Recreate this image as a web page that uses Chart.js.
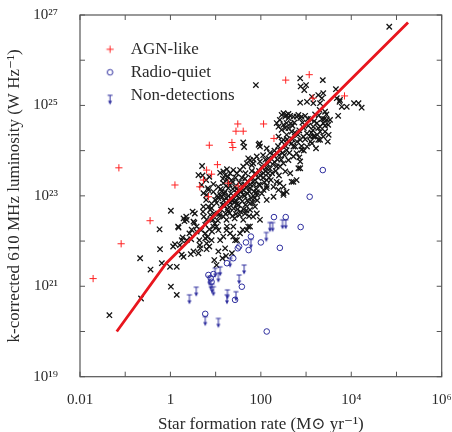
<!DOCTYPE html>
<html><head><meta charset="utf-8">
<script src="https://cdn.jsdelivr.net/npm/chart.js@4.4.1/dist/chart.umd.min.js"></script>
<style>html,body{margin:0;padding:0;background:#fff}</style>
</head><body>
<canvas id="c" width="452" height="432" style="display:block;width:452px;height:432px"></canvas>
<script>
// ---- data: [log10 SFR, log10 L610] ----
const starFormingLog = [
[-1.35,20.36],[-0.65,20.73],[-0.67,21.62],[-0.44,21.37],[-0.23,21.82],[-0.24,22.26],[-0.19,21.51],
[0.01,20.99],[0.14,20.81],[-0.01,21.43],[0.14,21.43],[0.06,21.88],[0.10,21.93],[0.01,22.67],[0.18,22.30],
[0.17,22.32],[0.29,22.50],[0.36,22.47],[0.49,22.65],[0.54,22.61],[0.51,22.43],[0.58,22.32],[0.47,22.25],[0.36,22.02],[0.25,22.02],
[0.21,21.91],[0.29,21.65],[0.51,21.77],[0.65,21.91],[0.77,22.06],[0.80,21.95],[0.91,22.02],[0.25,21.70],[0.27,22.08],[0.31,22.44],
[0.35,22.54],[0.42,22.17],[0.45,21.71],[0.53,22.40],[0.58,22.21],[0.46,22.04],[0.62,21.73],[0.66,21.84],[0.64,22.02],[0.69,23.24],
[0.70,23.66],[0.71,23.45],[0.73,23.06],[0.77,22.17],[0.79,22.91],[0.74,22.54],[0.68,22.24],[0.73,22.76],[0.77,22.36],[0.80,21.82],
[0.82,22.09],[0.86,21.88],[0.86,22.26],[0.92,22.21],[0.95,22.32],[0.96,22.61],[0.99,22.91],[0.84,23.13],[0.91,22.83],[0.88,22.58],
[0.80,22.47],[0.95,23.09],[0.86,23.42],[0.95,23.26],[0.84,22.76],[0.94,22.47],[0.98,22.39],[0.62,23.46],[0.83,23.17],[0.72,22.65],
[0.91,22.73],[0.88,22.69],[0.80,23.02],[0.79,23.35],
[0.97,21.58],[1.15,21.62],[1.23,21.67],[1.21,21.84],[1.36,21.73],[1.43,22.02],[1.06,21.77],[1.02,21.47],
[1.02,22.84],[1.06,22.95],[1.10,23.02],[1.21,23.09],[1.28,23.17],[1.06,23.20],[1.17,23.28],[1.25,23.35],[1.10,23.51],[1.17,23.54],
[1.25,23.59],[1.21,23.46],[1.32,23.50],[1.39,23.57],[1.47,23.50],[1.54,23.57],[1.61,23.65],[1.69,23.72],[1.76,23.79],[1.83,23.72],
[1.91,23.87],[1.98,24.09],[1.61,24.18],[1.63,24.08],[1.95,24.13],[1.97,24.16],[2.13,24.05],[2.28,23.90],[2.17,23.83],[1.98,23.76],
[1.84,23.80],[1.72,23.83],[1.80,23.68],[1.98,23.24],[2.13,23.17],[2.28,23.20],[2.35,23.31],[2.50,23.02],[2.57,23.09],[2.42,23.28],
[2.13,23.35],[1.83,23.31],[1.76,23.17],[1.61,23.02],[1.91,23.02],
[1.39,22.32],[1.54,22.17],[1.69,22.24],[1.72,22.32],[1.61,22.47],[1.83,22.54],[1.91,22.61],[1.98,22.47],[2.13,22.91],[2.06,23.13],
[1.91,23.08],[1.76,22.83],[1.65,22.61],[1.76,22.69],[1.87,22.76],[1.32,22.17],[1.24,22.24],[1.17,22.10],[1.10,22.02],[1.06,22.24],
[1.24,22.47],[1.02,22.32],[1.17,22.54],[1.25,22.32],[1.39,22.10],[1.47,22.02],[1.60,22.25],[1.76,22.32],
[1.05,22.45],[1.08,22.60],[1.12,22.70],[1.15,22.80],[1.18,22.90],[1.13,23.10],[1.09,22.55],[1.19,23.05],[1.14,22.98],
[1.22,22.60],[1.26,22.70],[1.30,22.75],[1.33,22.85],[1.36,22.90],[1.28,23.00],[1.34,23.05],[1.38,23.15],[1.31,23.25],[1.35,23.35],
[1.27,22.65],[1.24,22.95],[1.37,22.55],[1.29,22.88],
[1.42,22.50],[1.45,22.60],[1.48,22.70],[1.51,22.80],[1.44,22.90],[1.53,22.95],[1.47,23.00],[1.56,23.10],[1.43,23.20],[1.52,23.30],
[1.58,23.40],[1.41,22.85],[1.55,22.65],[1.49,23.05],[1.46,23.15],
[1.62,22.70],[1.66,22.80],[1.70,22.90],[1.64,23.00],[1.74,23.10],[1.68,23.20],[1.72,23.30],[1.78,23.40],[1.66,23.50],[1.79,22.95],[1.63,23.25],
[1.82,22.85],[1.86,22.95],[1.90,23.15],[1.84,23.25],[1.94,23.40],[1.88,23.50],[1.96,23.55],[1.85,23.10],
[1.03,23.00],[1.11,23.15],[1.16,23.38],[1.20,22.78],[1.23,23.22],[1.27,23.42],[1.31,22.62],[1.34,22.95],[1.38,23.30],[1.40,22.72],
[1.44,23.40],[1.47,22.82],[1.50,23.12],[1.53,22.58],[1.57,23.25],[1.59,22.88],[1.62,23.12],[1.65,23.38],[1.68,22.68],[1.71,23.05],
[1.74,22.55],[1.77,23.25],[1.80,23.55],[1.83,23.00],[1.87,23.35],[1.92,22.90],[1.95,23.25],[1.99,23.45],[2.02,23.05],[2.08,23.30],
[2.05,23.40],[2.10,23.55],[2.15,23.70],[2.20,23.60],[2.25,23.50],[2.30,23.75],[2.35,23.65],[2.40,23.90],[2.45,23.80],[2.20,23.95],
[2.30,24.00],[2.10,23.80],[2.40,23.45],[2.05,23.90],[2.18,23.40],[2.38,24.10],[2.48,23.95],
[2.12,23.62],[2.16,23.50],[2.22,23.35],[2.26,23.70],[2.33,23.55],[2.37,23.80],[2.43,24.00],[2.52,23.90],[2.58,24.25],[2.63,23.95],
[2.02,23.65],[2.06,23.50],[2.13,23.22],[2.28,22.98],[2.39,23.13],[2.50,23.06],[2.50,23.20],[2.54,23.54],[2.65,23.50],[2.68,23.31],
[2.79,23.35],[2.87,23.61],[2.42,23.65],[2.50,23.72],[2.61,23.79],[2.72,23.87],[2.79,23.94],[2.90,24.02],[3.02,24.09],[3.13,24.16],
[3.20,24.31],[3.31,24.24],[3.38,24.31],[3.42,24.55],[3.38,24.61],[3.27,24.50],[3.24,24.61],[3.16,24.53],[3.09,24.31],[3.02,24.38],
[2.94,24.31],[2.87,24.24],[2.76,24.09],[2.68,24.16],[2.61,24.20],[2.50,24.24],[2.57,24.35],[2.68,24.42],[2.61,24.50],[2.39,24.53],
[2.35,24.61],[2.42,24.68],[2.46,24.79],[2.57,24.79],[2.65,24.77],[2.72,24.75],[2.79,24.75],[2.87,24.72],[2.46,24.20],[2.39,24.31],
[2.46,24.46],[2.54,24.50],[2.61,24.72],[2.54,24.75],[2.50,24.57],[2.57,24.61],[2.72,23.31],[2.83,23.61],[2.87,23.76],[3.42,24.42],
[3.49,24.57],[3.53,24.68],[2.72,24.09],[2.57,24.01],
[2.55,24.10],[2.70,24.25],[2.75,24.40],[2.80,24.20],[2.85,24.45],[2.90,24.10],[2.95,24.50],[2.70,24.55],[2.85,23.85],[2.95,24.00],
[3.05,24.55],[3.10,24.70],[3.15,24.45],[3.20,24.80],[3.25,24.35],[3.30,24.90],[3.35,24.70],[3.45,24.80],[3.50,24.35],[3.10,24.20],
[3.22,24.05],[3.48,24.20],
[2.66,24.60],[2.74,24.62],[2.82,24.35],[2.92,24.62],[2.98,24.25],[3.04,24.70],[3.12,24.40],[3.18,24.65],[3.28,24.78],[3.40,24.70],
[2.87,25.60],[3.00,25.45],[2.88,25.42],[2.96,25.34],[3.37,25.56],[1.89,25.45],[2.87,25.06],[3.02,25.08],[3.13,25.19],[3.27,25.23],
[3.38,25.27],[3.35,25.16],[3.31,25.05],[3.16,25.05],[3.68,25.16],[3.74,25.08],[3.79,24.97],[3.90,24.97],[3.71,24.77],[3.42,24.86],
[3.46,24.68],[3.31,24.53],[3.31,24.42],[3.16,24.31],[3.27,24.24],[2.50,24.83],[2.61,24.81],[2.83,24.79],[2.90,24.75],[2.98,24.77],
[3.66,25.36],[3.75,25.12],[4.06,25.05],[4.16,25.05],[4.23,24.95],[4.84,26.74]
];
const agnLikeLog = [
[-1.71,21.17],[-1.14,23.62],[-1.09,21.94],[-0.45,22.45],[0.10,23.24],[0.65,23.20],[0.73,23.35],[0.80,23.57],[0.91,23.48],
[0.84,22.98],[0.86,24.12],[1.04,23.69],[1.28,23.28],[1.36,24.18],[1.38,24.07],[1.49,24.59],[1.45,24.43],[1.61,24.43],
[1.50,23.22],[2.06,24.59],[2.29,24.27],[2.55,25.56],[3.07,25.68],[3.15,25.16],[3.85,25.21]
];
const radioQuietLog = [
[3.37,23.57],[3.08,22.98],[2.88,22.31],[2.42,21.85],[2.55,22.53],[2.29,22.53],[2.00,21.97],[1.78,22.10],[1.67,21.97],
[1.73,21.80],[1.52,21.88],[1.49,21.84],[1.39,21.62],[1.25,21.51],[1.58,20.99],[1.43,20.70],[0.77,20.39],[2.13,20.00],
[0.84,21.25],[0.95,21.27],[0.89,21.18],[0.91,21.10]
];
const nonDetectLog = [
[0.42,20.81],[0.57,20.98],[1.06,20.29],[0.86,21.22],[0.95,20.99],[0.99,21.40],[1.06,21.29],[1.10,21.43],[1.26,20.92],
[1.25,20.81],[1.45,20.88],[1.52,21.25],[1.63,21.47],[1.32,21.62],[2.12,22.19],[2.20,22.41],[2.26,22.41],[2.48,22.47],
[0.77,20.33],[1.78,22.04],[0.89,21.12],[0.92,21.05],[2.55,22.47]
];
const fitSFR = [0.065, 0.8, 1.8e5];
const fitLum = [1.0e20, 3.2e21, 6.8e26];
const xTickValues = [0.01, 0.1, 1, 10, 100, 1e3, 1e4, 1e5, 1e6];
const xTickLabels = ['0.01', '', '1', '', '100', '', '10⁴', '', '10⁶'];
const yTickValues = [1e19, 1e20, 1e21, 1e22, 1e23, 1e24, 1e25, 1e26, 1e27];
const yTickLabels = ['10¹⁹', '', '10²¹', '', '10²³', '', '10²⁵', '', '10²⁷'];

// ---- styling ----
const FONT = "'Liberation Serif', 'DejaVu Serif', serif";
const TXT = '#2a2a2a';
const RED = '#ff2222';
const BLUE = '#2e2e9e';
const FRAME = '#555555';

const toPts = arr => arr.map(([lx, ly]) => ({x: Math.pow(10, lx), y: Math.pow(10, ly)}));

function glyphCanvas(kind, shift) {
  const c = document.createElement('canvas');
  c.width = 20; c.height = 24;
  const g = c.getContext('2d');
  const cx = 10 + shift, cy = 12;
  g.lineWidth = 1;
  if (kind === 'arrow') {
    g.strokeStyle = BLUE; g.fillStyle = BLUE;
    g.beginPath();
    g.moveTo(cx - 2.5, cy); g.lineTo(cx + 2.5, cy);
    g.moveTo(cx, cy); g.lineTo(cx, cy + 6.5);
    g.stroke();
    g.beginPath();
    g.moveTo(cx - 2, cy + 5.5); g.lineTo(cx + 2, cy + 5.5); g.lineTo(cx, cy + 9.5);
    g.closePath(); g.fill();
  } else if (kind === 'cross') {
    g.strokeStyle = RED;
    g.beginPath();
    g.moveTo(cx - 3.6, cy); g.lineTo(cx + 3.6, cy);
    g.moveTo(cx, cy - 3.6); g.lineTo(cx, cy + 3.6);
    g.stroke();
  } else if (kind === 'circle') {
    g.strokeStyle = BLUE;
    g.beginPath(); g.arc(cx, cy, 2.8, 0, Math.PI * 2); g.stroke();
  }
  return c;
}
const arrowGlyph = glyphCanvas('arrow', 0);
const LEG_SHIFT = -3.7;

const framePlugin = {
  id: 'frameTicks',
  afterLayout(chart) {
    const lg = chart.legend;
    if (lg) { lg.left = 99.2; lg.top = 34.8; lg.right = 320; lg.bottom = 250; lg.width = 220.8; lg.height = 215.2; }
  },
  afterDatasetsDraw(chart) {
    const {ctx, chartArea: a, scales} = chart;
    ctx.save();
    ctx.strokeStyle = FRAME;
    ctx.lineWidth = 1.2;
    ctx.strokeRect(a.left, a.top, a.right - a.left, a.bottom - a.top);
    ctx.lineWidth = 1;
    ctx.beginPath();
    const L = 5;
    xTickValues.forEach(v => {
      const p = scales.x.getPixelForValue(v);
      ctx.moveTo(p, a.bottom); ctx.lineTo(p, a.bottom - L);
      ctx.moveTo(p, a.top); ctx.lineTo(p, a.top + L);
    });
    yTickValues.forEach(v => {
      const p = scales.y.getPixelForValue(v);
      ctx.moveTo(a.left, p); ctx.lineTo(a.left + L, p);
      ctx.moveTo(a.right, p); ctx.lineTo(a.right - L, p);
    });
    ctx.stroke();
    ctx.restore();
  }
};

const fitPts = fitSFR.map((s, i) => ({x: s, y: fitLum[i]}));

new Chart(document.getElementById('c'), {
  type: 'scatter',
  data: {
    datasets: [
      {label: 'fit', data: fitPts, showLine: true, borderColor: '#e8161e', borderWidth: 2.8,
       pointRadius: 0, order: 0, tension: 0},
      {label: 'AGN-like', data: toPts(agnLikeLog), pointStyle: 'cross', pointRadius: 3.6,
       borderColor: RED, backgroundColor: RED, borderWidth: 1, order: 1, legendGlyph: glyphCanvas('cross', LEG_SHIFT)},
      {label: 'Radio-quiet', data: toPts(radioQuietLog), pointStyle: 'circle', pointRadius: 2.8,
       borderColor: BLUE, backgroundColor: 'rgba(0,0,0,0)', borderWidth: 1, order: 1, legendGlyph: glyphCanvas('circle', LEG_SHIFT)},
      {label: 'Non-detections', data: toPts(nonDetectLog), pointStyle: arrowGlyph, pointRadius: 4,
       borderColor: BLUE, backgroundColor: BLUE, order: 1, legendGlyph: glyphCanvas('arrow', LEG_SHIFT)},
      {label: 'Star-forming', data: toPts(starFormingLog), pointStyle: 'crossRot', pointRadius: 3.8,
       borderColor: '#151515', backgroundColor: '#151515', borderWidth: 1.3, order: 2}
    ]
  },
  options: {
    responsive: false,
    animation: false,
    events: [],
    layout: {padding: {left: 0, right: 10.3, top: 15, bottom: 0}},
    plugins: {
      tooltip: {enabled: false},
      legend: {
        position: 'chartArea',
        align: 'start',
        labels: {
          usePointStyle: true,
          padding: 6,
          color: TXT,
          font: {family: FONT, size: 17},
          filter: (item) => item.text === 'AGN-like' || item.text === 'Radio-quiet' || item.text === 'Non-detections',
          generateLabels(chart) {
            const items = Chart.defaults.plugins.legend.labels.generateLabels(chart);
            items.forEach(it => {
              const ds = chart.data.datasets[it.datasetIndex];
              if (ds.legendGlyph) it.pointStyle = ds.legendGlyph;
            });
            return items;
          }
        }
      }
    },
    scales: {
      x: {
        type: 'logarithmic', position: 'bottom', min: 0.01, max: 1e6,
        afterBuildTicks: s => { s.ticks = xTickValues.map(v => ({value: v})); },
        afterFit: s => { s.height = 55.3; s.paddingLeft = 0; s.paddingRight = 0; },
        grid: {display: false}, border: {display: false},
        ticks: {autoSkip: false, maxRotation: 0, minRotation: 0, padding: 6, color: TXT,
                font: {family: FONT, size: 15}, callback: (v, i) => xTickLabels[i]},
        title: {display: true, text: 'Star formation rate (M⊙ yr⁻¹)', color: TXT,
                font: {family: FONT, size: 17}, padding: {top: 0, bottom: -3}}
      },
      y: {
        type: 'logarithmic', position: 'left', min: 1e19, max: 1e27,
        afterBuildTicks: s => { s.ticks = yTickValues.map(v => ({value: v})); },
        afterFit: s => { s.width = 80; s.paddingTop = 0; s.paddingBottom = 0; },
        grid: {display: false}, border: {display: false},
        ticks: {autoSkip: false, padding: 14, color: TXT,
                font: {family: FONT, size: 15}, callback: (v, i) => yTickLabels[i]},
        title: {display: true, text: 'k-corrected 610 MHz luminosity (W Hz⁻¹)', color: TXT,
                font: {family: FONT, size: 17}, padding: {top: 4.8, bottom: 0}}
      }
    }
  },
  plugins: [framePlugin]
});
</script>
</body></html>
